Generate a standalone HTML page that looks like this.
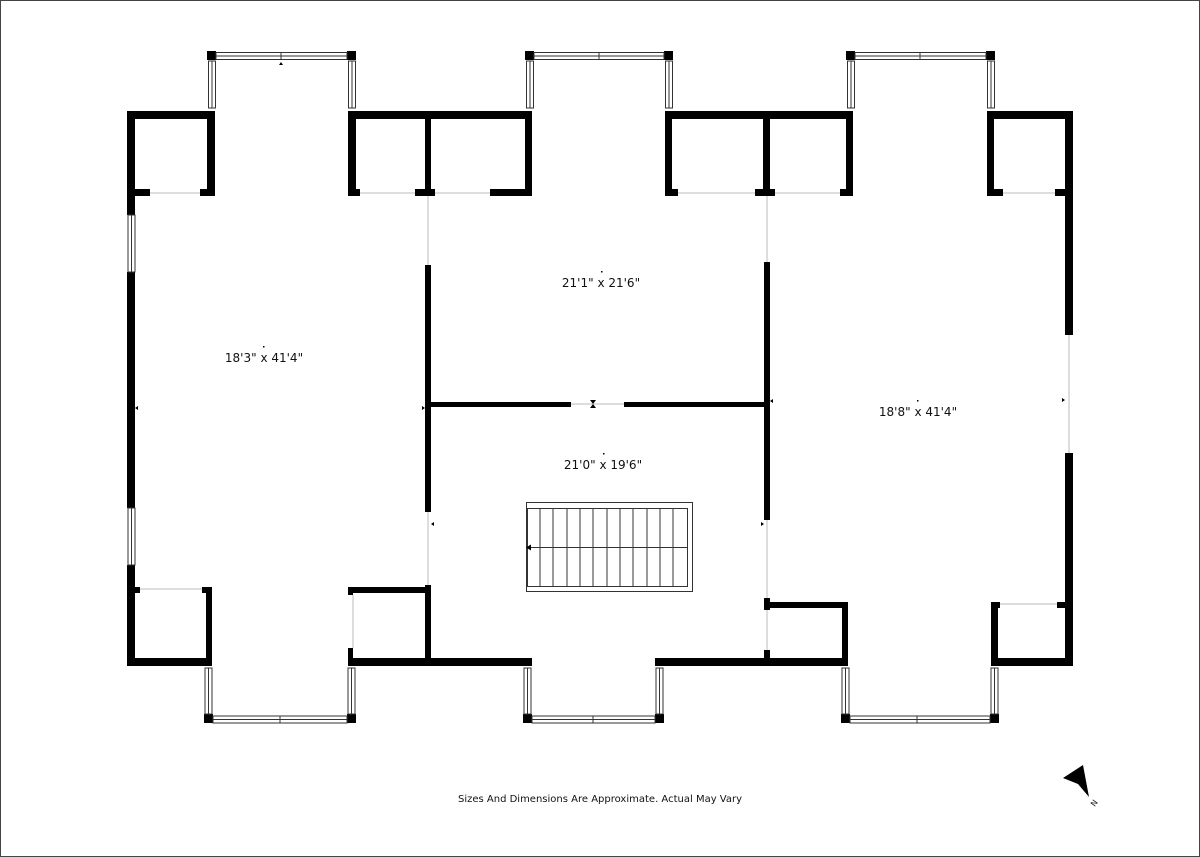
<!DOCTYPE html>
<html><head><meta charset="utf-8"><style>
html,body{margin:0;padding:0;background:#fff;}
svg{display:block;}
text{font-family:"DejaVu Sans","Liberation Sans",sans-serif;fill:#111;}
</style></head><body>
<svg width="1200" height="857" viewBox="0 0 1200 857" xmlns="http://www.w3.org/2000/svg">
<rect x="0.5" y="0.5" width="1199" height="856" fill="#fff" stroke="#444" stroke-width="1"/>

<g stroke="#ddd" stroke-width="2">
<line x1="150" y1="193" x2="200" y2="193"/>
<line x1="360" y1="193" x2="415" y2="193"/>
<line x1="435" y1="193" x2="490" y2="193"/>
<line x1="678" y1="193" x2="755" y2="193"/>
<line x1="775" y1="193" x2="840" y2="193"/>
<line x1="1003" y1="193" x2="1055" y2="193"/>
<line x1="428" y1="196" x2="428" y2="265"/>
<line x1="767" y1="196" x2="767" y2="262"/>
<line x1="428" y1="512" x2="428" y2="585"/>
<line x1="767" y1="520" x2="767" y2="598"/>
<line x1="571" y1="404" x2="624" y2="404"/>
<line x1="1069" y1="335" x2="1069" y2="453"/>
<line x1="140" y1="589" x2="202" y2="589"/>
<line x1="353" y1="595" x2="353" y2="648"/>
<line x1="767" y1="610" x2="767" y2="650"/>
<line x1="1000" y1="604" x2="1057" y2="604"/>
</g>

<g fill="#000">
<rect x="127" y="111" width="8" height="104"/>
<rect x="127" y="272" width="8" height="236"/>
<rect x="127" y="565" width="8" height="101"/>
<rect x="127" y="111" width="88" height="8"/>
<rect x="207" y="111" width="8" height="85"/>
<rect x="127" y="189" width="23" height="7"/>
<rect x="200" y="189" width="15" height="7"/>
<rect x="348" y="111" width="184" height="8"/>
<rect x="348" y="111" width="8" height="85"/>
<rect x="425" y="111" width="6" height="85"/>
<rect x="525" y="111" width="7" height="85"/>
<rect x="348" y="189" width="12" height="7"/>
<rect x="415" y="189" width="20" height="7"/>
<rect x="490" y="189" width="42" height="7"/>
<rect x="665" y="111" width="188" height="8"/>
<rect x="665" y="111" width="7" height="85"/>
<rect x="763" y="111" width="7" height="85"/>
<rect x="846" y="111" width="7" height="85"/>
<rect x="665" y="189" width="13" height="7"/>
<rect x="755" y="189" width="20" height="7"/>
<rect x="840" y="189" width="13" height="7"/>
<rect x="987" y="111" width="86" height="8"/>
<rect x="987" y="111" width="7" height="85"/>
<rect x="987" y="189" width="16" height="7"/>
<rect x="1055" y="189" width="18" height="7"/>
<rect x="1065" y="111" width="8" height="224"/>
<rect x="1065" y="453" width="8" height="213"/>
<rect x="425" y="265" width="6" height="247"/>
<rect x="425" y="585" width="6" height="80"/>
<rect x="764" y="262" width="6" height="258"/>
<rect x="764" y="598" width="6" height="12"/>
<rect x="764" y="650" width="6" height="15"/>
<rect x="431" y="402" width="140" height="5"/>
<rect x="624" y="402" width="140" height="5"/>
<rect x="127" y="587" width="13" height="6"/>
<rect x="202" y="587" width="10" height="6"/>
<rect x="206" y="587" width="6" height="79"/>
<rect x="127" y="658" width="85" height="8"/>
<rect x="348" y="587" width="83" height="6"/>
<rect x="348" y="587" width="5" height="8"/>
<rect x="348" y="648" width="5" height="18"/>
<rect x="348" y="658" width="184" height="8"/>
<rect x="655" y="658" width="193" height="8"/>
<rect x="770" y="602" width="78" height="6"/>
<rect x="842" y="602" width="6" height="64"/>
<rect x="991" y="602" width="9" height="6"/>
<rect x="1057" y="602" width="16" height="6"/>
<rect x="991" y="602" width="7" height="64"/>
<rect x="991" y="658" width="82" height="8"/>
<rect x="207" y="51" width="9" height="9"/>
<rect x="347" y="51" width="9" height="9"/>
<rect x="525" y="51" width="9" height="9"/>
<rect x="664" y="51" width="9" height="9"/>
<rect x="846" y="51" width="9" height="9"/>
<rect x="986" y="51" width="9" height="9"/>
<rect x="204" y="714" width="9" height="9"/>
<rect x="347" y="714" width="9" height="9"/>
<rect x="523" y="714" width="9" height="9"/>
<rect x="655" y="714" width="9" height="9"/>
<rect x="841" y="714" width="9" height="9"/>
<rect x="990" y="714" width="9" height="9"/>
</g>

<g fill="#fff" stroke="#333" stroke-width="1">
<rect x="216" y="52.5" width="131" height="7"/><line x1="216" y1="56" x2="347" y2="56"/><line x1="281" y1="52" x2="281" y2="60"/>
<rect x="534" y="52.5" width="130" height="7"/><line x1="534" y1="56" x2="664" y2="56"/><line x1="599" y1="52" x2="599" y2="60"/>
<rect x="855" y="52.5" width="131" height="7"/><line x1="855" y1="56" x2="986" y2="56"/><line x1="920" y1="52" x2="920" y2="60"/>
<rect x="208.5" y="61" width="7" height="47"/><line x1="212" y1="61" x2="212" y2="108"/>
<rect x="348.5" y="61" width="7" height="47"/><line x1="352" y1="61" x2="352" y2="108"/>
<rect x="526.5" y="61" width="7" height="47"/><line x1="530" y1="61" x2="530" y2="108"/>
<rect x="665.5" y="61" width="7" height="47"/><line x1="669" y1="61" x2="669" y2="108"/>
<rect x="847.5" y="61" width="7" height="47"/><line x1="851" y1="61" x2="851" y2="108"/>
<rect x="987.5" y="61" width="7" height="47"/><line x1="991" y1="61" x2="991" y2="108"/>
<rect x="128" y="215" width="7" height="57"/><line x1="131.5" y1="215" x2="131.5" y2="272"/>
<rect x="128" y="508" width="7" height="57"/><line x1="131.5" y1="508" x2="131.5" y2="565"/>
<rect x="205" y="668" width="7" height="46"/><line x1="208.5" y1="668" x2="208.5" y2="714"/>
<rect x="348" y="668" width="7" height="46"/><line x1="351.5" y1="668" x2="351.5" y2="714"/>
<rect x="524" y="668" width="7" height="46"/><line x1="527.5" y1="668" x2="527.5" y2="714"/>
<rect x="656" y="668" width="7" height="46"/><line x1="659.5" y1="668" x2="659.5" y2="714"/>
<rect x="842" y="668" width="7" height="46"/><line x1="845.5" y1="668" x2="845.5" y2="714"/>
<rect x="991" y="668" width="7" height="46"/><line x1="994.5" y1="668" x2="994.5" y2="714"/>
<rect x="213" y="716" width="134" height="7"/><line x1="213" y1="719.5" x2="347" y2="719.5"/><line x1="280" y1="716" x2="280" y2="723"/>
<rect x="532" y="716" width="123" height="7"/><line x1="532" y1="719.5" x2="655" y2="719.5"/><line x1="593" y1="716" x2="593" y2="723"/>
<rect x="850" y="716" width="140" height="7"/><line x1="850" y1="719.5" x2="990" y2="719.5"/><line x1="917" y1="716" x2="917" y2="723"/>
</g>

<g fill="none" stroke="#333" stroke-width="1">
<rect x="526.5" y="502.5" width="166" height="89"/>
<rect x="527.5" y="508.5" width="160" height="78"/>
<line x1="527" y1="547.5" x2="687" y2="547.5"/>
<line x1="540" y1="508" x2="540" y2="587"/>
<line x1="553" y1="508" x2="553" y2="587"/>
<line x1="567" y1="508" x2="567" y2="587"/>
<line x1="580" y1="508" x2="580" y2="587"/>
<line x1="593" y1="508" x2="593" y2="587"/>
<line x1="607" y1="508" x2="607" y2="587"/>
<line x1="620" y1="508" x2="620" y2="587"/>
<line x1="633" y1="508" x2="633" y2="587"/>
<line x1="647" y1="508" x2="647" y2="587"/>
<line x1="660" y1="508" x2="660" y2="587"/>
<line x1="673" y1="508" x2="673" y2="587"/>
</g>
<polygon points="526,547.5 531,544.5 531,550.5" fill="#000"/>

<g fill="#000">
<polygon points="135,408 138,406 138,410"/>
<polygon points="425,408 422,406 422,410"/>
<polygon points="431,524 434,522 434,526"/>
<polygon points="764,524 761,522 761,526"/>
<polygon points="770,401 773,399 773,403"/>
<polygon points="1065,400 1062,398 1062,402"/>
<polygon points="593,404 590,400 596,400"/>
<polygon points="593,404 590,408 596,408"/>
<polygon points="281,62 279,65 283,65"/>
<rect x="263" y="346" width="1.5" height="1.5"/>
<rect x="601" y="271" width="1.5" height="1.5"/>
<rect x="603" y="453" width="1.5" height="1.5"/>
<rect x="917" y="400" width="1.5" height="1.5"/>
</g>

<text x="264" y="362" font-size="12" text-anchor="middle">18'3" x 41'4"</text>
<text x="601" y="287" font-size="12" text-anchor="middle">21'1" x 21'6"</text>
<text x="603" y="469" font-size="12" text-anchor="middle">21'0" x 19'6"</text>
<text x="918" y="416" font-size="12" text-anchor="middle">18'8" x 41'4"</text>
<text x="600" y="802" font-size="10" text-anchor="middle">Sizes And Dimensions Are Approximate. Actual May Vary</text>

<polygon points="1063,778 1083,765 1089,797 1078,784" fill="#000"/>
<text x="1094" y="806" font-size="8" text-anchor="middle" transform="rotate(-55 1094 803)">N</text>
</svg>
</body></html>
